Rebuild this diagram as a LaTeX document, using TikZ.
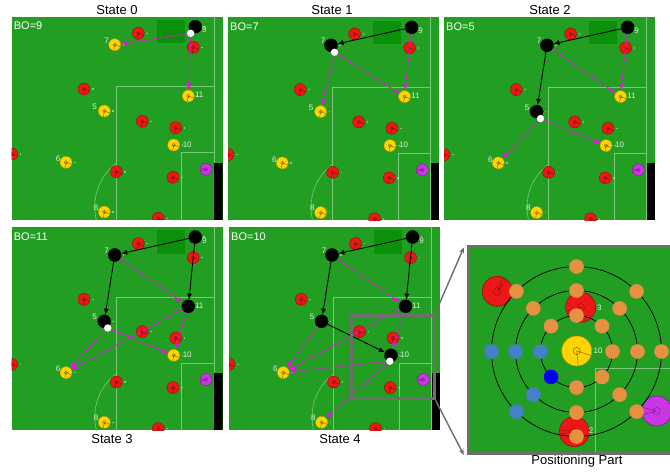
\documentclass[tikz,border=0pt]{standalone}
\usepackage{fontspec}
\setmainfont{Liberation Sans}
\usetikzlibrary{arrows.meta}
\definecolor{pitch}{RGB}{34,158,34}
\definecolor{dkpitch}{RGB}{10,144,10}
\definecolor{pline}{RGB}{125,200,125}
\definecolor{redpl}{RGB}{236,24,24}
\definecolor{redln}{RGB}{140,10,10}
\definecolor{yelpl}{RGB}{255,212,0}
\definecolor{yelln}{RGB}{190,150,0}
\definecolor{magpl}{RGB}{200,55,225}
\definecolor{magln}{RGB}{120,20,140}
\definecolor{arrmag}{RGB}{235,15,235}
\definecolor{orng}{RGB}{230,145,65}
\definecolor{stblue}{RGB}{68,130,200}
\definecolor{zoomgray}{RGB}{110,110,110}
\newcommand{\pdec}[5]{\draw[#1, line width=0.35pt] (path picture bounding box.center) circle (#5) (path picture bounding box.center) -- ++(#2:#4) (path picture bounding box.center) -- ++(#3:#4);}
\tikzset{
  plbase/.style={circle, inner sep=0pt, minimum size=12pt, line width=0.35pt},
  plbig/.style={circle, inner sep=0pt, minimum size=30pt, line width=0.5pt},
  redp/.style={plbase, fill=redpl, draw=redln, path picture={\pdec{redln}{-20}{-100}{6pt}{1.7pt}}},
  yelp/.style={plbase, fill=yelpl, draw=yelln, path picture={\pdec{yelln!60!black}{-20}{-100}{6pt}{1.7pt}}},
  blkp/.style={plbase, fill=black, draw=black, minimum size=13pt},
  magp/.style={plbase, fill=magpl, draw=magln, path picture={\pdec{magln}{170}{195}{6pt}{1.7pt}}},
  redb/.style 2 args={plbig, fill=redpl, draw=redln, path picture={\pdec{redln}{#1}{#2}{15pt}{3.8pt}}},
  yelb/.style 2 args={plbig, fill=yelpl, draw=yelln, path picture={\pdec{yelln!50!black}{#1}{#2}{15pt}{3.6pt}}},
  magb/.style 2 args={plbig, fill=magpl, draw=magln, path picture={\pdec{magln}{#1}{#2}{15pt}{3.6pt}}},
  ballp/.style={circle, inner sep=0pt, minimum size=7.4pt, fill=white},
  numlbl/.style={font=\fontsize{8}{9}\selectfont, text=white!85!pitch, inner sep=0pt},
  bolbl/.style={font=\fontsize{11}{12}\selectfont, text=white, inner sep=0pt, anchor=west},
  ttl/.style={font=\fontsize{13}{14}\selectfont, inner sep=0pt},
  passarr/.style={draw=arrmag, line width=1.05pt, dash pattern=on 3.8pt off 2.2pt, -{Latex[length=6pt,width=5pt]}},
  kickarr/.style={draw=black, line width=0.85pt, -{Latex[length=6pt,width=5pt]}},
  fline/.style={draw=pline, line width=0.6pt},
  tickm/.style={fill=white, opacity=0.45},
  odot/.style={circle, inner sep=0pt, minimum size=14.6pt, fill=orng},
  bdot/.style={circle, inner sep=0pt, minimum size=14.6pt, fill=stblue},
  sdot/.style={circle, inner sep=0pt, minimum size=14.6pt, fill=blue},
}
\newcommand{\redpl}[3]{\node[redp] (#1) at (#2,#3) {}; \fill[tickm] ({#2+8},{#3-0.8}) rectangle ++(1.5,1.6);}
\newcommand{\plyr}[7]{\node[#4] (#1) at (#2,#3) {}; \fill[tickm] ({#2+8},{#3-0.8}) rectangle ++(1.5,1.6); \node[numlbl] (#1lb) at ({#2+(#6)},{#3+(#7)}) {#5};}
\newcommand{\pitchbase}[1]{%
  \fill[pitch] (0,0) rectangle (211,203);
  \begin{scope}
    \clip (0,0) rectangle (211,203);
    \fill[dkpitch] (145,3.3) rectangle (173.3,26.6);
    \draw[fline] (202.6,0) -- (202.6,203);
    \draw[fline] (104.3,203) -- (104.3,70) -- (202.6,70);
    \draw[fline] (169.8,203) -- (169.8,136) -- (202.6,136);
    \begin{scope}
      \clip (0,0) rectangle (104.3,203);
      \draw[fline] (137,190) circle [radius=54];
    \end{scope}
    \fill[black] (202.6,146) rectangle (211,203);
    \redpl{#1r1}{126.6}{16.6}
    \redpl{#1r2}{181.6}{30.6}
    \redpl{#1r3}{72.3}{72.3}
    \redpl{#1r4}{130.6}{104.6}
    \redpl{#1r5}{164}{111}
    \redpl{#1r6}{0}{137.3}
    \redpl{#1r7}{104.6}{155}
    \redpl{#1r8}{161.3}{160.6}
    \redpl{#1r9}{146.6}{201.6}
    \node[magp] (#1gk) at (194.3,152.6) {};
  \end{scope}}
\newcommand{\team}[6]{%
  \plyr{#1p9}{183.6}{10}{#2}{9}{9}{3.3}
  \plyr{#1p7}{103}{28}{#3}{7}{-8}{-4.2}
  \plyr{#1p11}{176.6}{79.3}{#4}{11}{10.9}{-1}
  \plyr{#1p5}{92.6}{94.3}{#5}{5}{-9.6}{-4.3}
  \plyr{#1p10}{162}{128.3}{#6}{10}{13.5}{-0.7}
  \plyr{#1p6}{54.3}{145.6}{yelp}{6}{-8}{-3.6}
  \plyr{#1p8}{92.6}{195.3}{yelp}{8}{-8.3}{-4.7}}
\begin{document}
\begin{tikzpicture}[x=1pt,y=-1pt]
\useasboundingbox (0,0) rectangle (670,472);
\fill[white] (0,0) rectangle (670,472);
\clip (0,0) rectangle (670,472);

% titles
\node[ttl] (t0) at (117,10.5) {State 0};
\node[ttl] (t1) at (332,10.5) {State 1};
\node[ttl] (t2) at (550,10.5) {State 2};
\node[ttl] (t3) at (112,439) {State 3};
\node[ttl] (t4) at (340,439) {State 4};
\node[ttl] (t5) at (577,461) {Positioning Part};

% State 0
\begin{scope}[shift={(11.7,16.7)}]
  \pitchbase{a}
  \team{a}{blkp}{yelp}{yelp}{yelp}{yelp}
  \node[ballp] (aball) at (179,16.6) {};
  \draw[passarr] (aball) -- (ap7);
  \draw[passarr] (aball) -- (ap11);
  \node[bolbl] (abo) at (2,9.5) {BO=9};
\end{scope}

% State 1
\begin{scope}[shift={(228,17.3)}]
  \pitchbase{b}
  \team{b}{blkp}{blkp}{yelp}{yelp}{yelp}
  \node[ballp] (bball) at (106.5,35) {};
  \draw[kickarr] (bp9) -- (bp7);
  \draw[passarr] (bp9) -- (bp11);
  \draw[passarr] (bball) -- (bp5);
  \draw[passarr] (bball) -- (bp11);
  \node[bolbl] (bbo) at (2,9.5) {BO=7};
\end{scope}

% State 2
\begin{scope}[shift={(444,17.3)}]
  \pitchbase{c}
  \team{c}{blkp}{blkp}{yelp}{blkp}{yelp}
  \node[ballp] (cball) at (96.5,101.3) {};
  \draw[kickarr] (cp9) -- (cp7);
  \draw[kickarr] (cp7) -- (cp5);
  \draw[passarr] (cp9) -- (cp11);
  \draw[passarr] (cp7) -- (cp11);
  \draw[passarr] (cball) -- (cp6);
  \draw[passarr] (cball) -- (cp10);
  \node[bolbl] (cbo) at (2,9.5) {BO=5};
\end{scope}

% State 3
\begin{scope}[shift={(11.7,227)}]
  \pitchbase{d}
  \team{d}{blkp}{blkp}{blkp}{blkp}{yelp}
  \node[ballp] (dball) at (96,101) {};
  \draw[kickarr] (dp9) -- (dp7);
  \draw[kickarr] (dp7) -- (dp5);
  \draw[kickarr] (dp9) -- (dp11);
  \draw[passarr] (dp7) -- (dp11);
  \draw[passarr] (dball) -- (dp6);
  \draw[passarr] (dball) -- (dp10);
  \draw[passarr] (dp11) -- (dp6);
  \draw[passarr] (dp11) -- (dp10);
  \node[bolbl] (dbo) at (2,9.5) {BO=11};
\end{scope}

% State 4
\begin{scope}[shift={(229,227)}]
  \pitchbase{e}
  \team{e}{blkp}{blkp}{blkp}{blkp}{blkp}
  \node[ballp] (eball) at (160.8,134.2) {};
  \draw[kickarr] (ep9) -- (ep7);
  \draw[kickarr] (ep7) -- (ep5);
  \draw[kickarr] (ep9) -- (ep11);
  \draw[kickarr] (ep5) -- (ep10);
  \draw[passarr] (ep7) -- (ep11);
  \draw[passarr] (ep11) -- (ep6);
  \draw[passarr] (ep11) -- (ep10);
  \draw[passarr] (ep5) -- (ep6);
  \draw[passarr] (eball) -- (ep6);
  \draw[passarr] (eball) -- (ep8);
  \node[bolbl] (ebo) at (2,9.5) {BO=10};
\end{scope}

% zoom box and connectors
\draw[zoomgray, line width=3pt] (351.3,315) rectangle (434.5,398.2);
\coordinate (zbtr) at (434.5,315);
\coordinate (zbbr) at (434.5,398.2);
\coordinate (pptl) at (463.8,247.5);
\coordinate (ppbl) at (463.8,455);
\draw[zoomgray, line width=1.4pt, -{Stealth[length=6pt,width=5pt]}] (zbtr) -- (pptl);
\draw[zoomgray, line width=1.4pt, -{Stealth[length=6pt,width=5pt]}] (zbbr) -- (ppbl);

% positioning part
\fill[pitch] (468.3,246.3) rectangle (676,453.5);
\begin{scope}
  \clip (468.3,246.3) rectangle (676,453.5);
  \draw[draw=pline, line width=1pt] (595,460) -- (595,368.3) -- (680,368.3);
  \node[redb={50}{68}] (zr4) at (497.3,291.3) {};
  \node[redb={195}{220}] (zr3) at (580.7,307.3) {};
  \node[redb={172}{190}] (zr2) at (574.3,431.7) {};
  \node[yelb={-17}{-84}] (zy10) at (576.7,351) {};
  \node[magb={165}{195}] (zgk) at (656.7,411) {};
  \foreach \r in {36,61,85} {\draw[black, line width=0.7pt] (576.5,351.5) circle [radius=\r];}
  \foreach \r/\n in {36/i,61/m,85/o} {
    \foreach \a in {0,45,90,135,270,315} {
      \node[odot] (\n\a) at ({576.5+\r*cos(\a)},{351.5-\r*sin(\a)}) {};
    }
    \node[bdot] (\n180) at ({576.5-\r},351.5) {};
  }
  \node[bdot] (m225) at ({576.5+61*cos(225)},{351.5-61*sin(225)}) {};
  \node[bdot] (o225) at ({576.5+85*cos(225)},{351.5-85*sin(225)}) {};
  \node[sdot] (i225) at ({576.5+36*cos(225)},{351.5-36*sin(225)}) {};
  \node[numlbl] (zl3) at (599.3,307.3) {3};
  \node[numlbl] (zl2) at (591,431) {2};
  \node[numlbl] (zl10) at (598,351) {10};
\end{scope}
\draw[zoomgray, line width=3.3pt] (468.3,246.3) rectangle (676,453.5);
\end{tikzpicture}
\end{document}
